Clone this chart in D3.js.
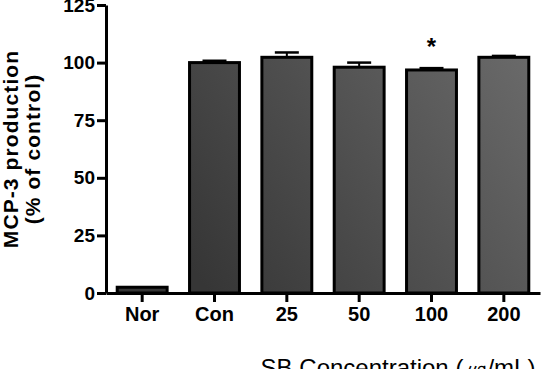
<!DOCTYPE html>
<html>
<head>
<meta charset="utf-8">
<script src="https://cdn.jsdelivr.net/npm/d3@7"></script>
<style>
  body { margin: 0; background: #fff; }
  text { font-family: "Liberation Sans", Arial, sans-serif; font-weight: bold; }
</style>
</head>
<body>
<svg></svg>
<script>
const categories = ['Nor', 'Con', '25', '50', '100', '200'];
const values = [2.5, 100, 102.3, 98, 96.8, 102.3];
const errors = [0, 0.8, 2.1, 2.0, 0.8, 0.6];
const marked = ['100'];
const yTicks = [0, 25, 50, 75, 100, 125];

const W = 557, H = 369;
const margins = {t: 5, r: 17, b: 76, l: 106};
const size = {w: W - margins.l - margins.r, h: H - margins.t - margins.b};

const svg = d3.select('svg')
    .attr('width', W)
    .attr('height', H);

const defs = svg.append('defs');
const grad = defs.append('linearGradient')
    .attr('id', 'barFill')
    .attr('gradientUnits', 'userSpaceOnUse')
    .attr('x1', margins.l).attr('y1', margins.t + size.h)
    .attr('x2', margins.l + size.w).attr('y2', margins.t);
grad.append('stop').attr('offset', '0%').attr('stop-color', '#363636');
grad.append('stop').attr('offset', '100%').attr('stop-color', '#7a7a7a');

const g = svg.append('g')
    .attr('transform', `translate(${margins.l}, ${margins.t})`);

const scaleX = d3.scaleBand()
    .domain(categories)
    .range([0, size.w])
    .paddingInner(0.31)
    .paddingOuter(0.155);

const scaleY = d3.scaleLinear()
    .domain([0, 125])
    .range([size.h, 0]);

// error bars (drawn under the bars so only the upper part shows)
const errG = g.append('g');
categories.forEach((c, i) => {
    if (!errors[i]) return;
    const cx = scaleX(c) + scaleX.bandwidth() / 2;
    const top = scaleY(values[i] + errors[i]);
    errG.append('line')
        .attr('x1', cx).attr('x2', cx)
        .attr('y1', scaleY(values[i])).attr('y2', top)
        .attr('stroke', '#000').attr('stroke-width', 2);
    errG.append('line')
        .attr('x1', cx - 12).attr('x2', cx + 12)
        .attr('y1', top).attr('y2', top)
        .attr('stroke', '#000').attr('stroke-width', 2.5);
});

g.selectAll('rect.bar')
    .data(categories)
    .enter()
    .append('rect')
    .classed('bar', true)
    .attr('x', d => scaleX(d))
    .attr('width', scaleX.bandwidth())
    .attr('y', (d, i) => scaleY(values[i]))
    .attr('height', (d, i) => size.h - scaleY(values[i]))
    .attr('fill', 'url(#barFill)')
    .attr('stroke', '#000')
    .attr('stroke-width', 3);

// significance marks
g.selectAll('text.star')
    .data(marked)
    .enter()
    .append('text')
    .classed('star', true)
    .attr('x', d => scaleX(d) + scaleX.bandwidth() / 2)
    .attr('y', d => scaleY(values[categories.indexOf(d)] + errors[categories.indexOf(d)]) - 13)
    .attr('text-anchor', 'middle')
    .style('font-size', '24px')
    .text('*');

const axisY = d3.axisLeft(scaleY)
    .tickValues(yTicks)
    .tickSizeInner(9)
    .tickSizeOuter(0)
    .tickPadding(2);
const axisYG = g.append('g').call(axisY);

const axisX = d3.axisBottom(scaleX)
    .tickSizeInner(9)
    .tickSizeOuter(0)
    .tickPadding(5);
const axisXG = g.append('g')
    .attr('transform', `translate(0, ${size.h})`)
    .call(axisX);

[axisYG, axisXG].forEach(a => {
    a.select('.domain').attr('stroke', '#000').attr('stroke-width', 3);
    a.selectAll('.tick line').attr('stroke', '#000').attr('stroke-width', 3);
    a.selectAll('.tick text')
        .attr('fill', '#000')
        .style('font-family', '"Liberation Sans", Arial, sans-serif')
        .style('font-weight', 'bold');
});
axisYG.selectAll('.tick text').style('font-size', '19px');
axisXG.selectAll('.tick text').style('font-size', '20px');

// y title
const yTitle = svg.append('text')
    .attr('transform', `translate(18, 149) rotate(-90)`)
    .attr('text-anchor', 'middle')
    .style('font-size', '21px')
    .style('letter-spacing', '1.1px');
yTitle.append('tspan').attr('x', 0).attr('dy', 0).text('MCP-3 production');
yTitle.append('tspan').attr('x', 0).attr('dy', 22).text('(% of control)');

// x title
svg.append('text')
    .attr('x', 398)
    .attr('y', 376)
    .attr('text-anchor', 'middle')
    .style('font-size', '24px')
    .style('font-weight', 'normal')
    .text('SB Concentration (㎍/mL)');
</script>
</body>
</html>
